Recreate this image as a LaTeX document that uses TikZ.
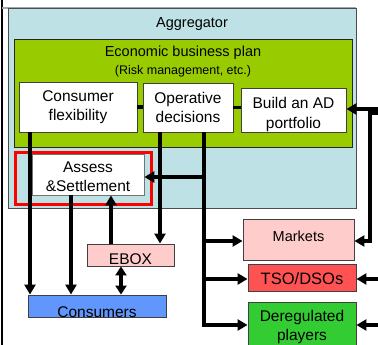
\documentclass[tikz,border=0pt]{standalone}
\usepackage{fontspec}
\setmainfont{Liberation Sans}
\usetikzlibrary{arrows.meta}
\definecolor{aggfill}{HTML}{BDE1E4}
\definecolor{planfill}{HTML}{99CC00}
\definecolor{pinkfill}{HTML}{FFCCCC}
\definecolor{tsofill}{HTML}{FF5252}
\definecolor{deregfill}{HTML}{33CC33}
\definecolor{consfill}{HTML}{6197FD}
\begin{document}
\begin{tikzpicture}[x=1pt,y=-1pt,
  box/.style={draw=black!75, line width=0.9pt, inner sep=0pt, align=center,
    font=\fontsize{15.5}{19.5}\selectfont},
  txt/.style={inner sep=0pt, align=center, font=\fontsize{15.5}{19.5}\selectfont},
  flow/.style={line width=3.4pt, -{Triangle[length=10pt,width=11pt]}},
  dflow/.style={line width=3.4pt, {Triangle[length=9pt,width=11pt]}-{Triangle[length=9pt,width=11pt]}},
  link/.style={line width=3.4pt},
]
\useasboundingbox (0,0) rectangle (378,345);
\clip (0,0) rectangle (378,345);

% frame edges
\draw[line width=2pt] (1.5,0) -- (1.5,345);
\draw[black!35, line width=1.2pt] (2,8) -- (356,8);

% aggregator and its plan
\node[box, fill=aggfill, draw=black!70, minimum width=348pt, minimum height=200pt] (agg) at (182,108) {};
\node[txt, font=\fontsize{14.5}{17}\selectfont] (aggl) at (192,24) {Aggregator};
\node[box, fill=planfill, draw=black!85, minimum width=338pt, minimum height=108pt] (plan) at (183,93) {};
\node[txt, font=\fontsize{14.5}{17}\selectfont] (econ) at (183,53) {Economic business plan};
\node[txt, font=\fontsize{12.5}{15}\selectfont] (risk) at (183,71) {(Risk management, etc.)};

\node[box, fill=white, minimum width=118pt, minimum height=50pt] (cf) at (78,107) {Consumer\\flexibility};
\node[box, fill=white, minimum width=90pt, minimum height=49pt] (od) at (188,107.5) {Operative\\decisions};
\node[box, fill=white, minimum width=105pt, minimum height=44pt] (ad) at (293.5,110) {};
\node[txt] (adl) at (293.5,114.5) {Build an AD\\portfolio};

% settlement
\node[draw=red, line width=3pt, minimum width=136pt, minimum height=52pt, inner sep=0pt] (redframe) at (83,178) {};
\node[box, fill=white, draw=black!55, line width=0.7pt, minimum width=112pt, minimum height=41pt] (assess) at (88,174.5) {};
\node[txt] (assessl) at (88,176.5) {Assess\\\&Settlement};

% outside actors
\node[box, fill=pinkfill, minimum width=87pt, minimum height=22pt] (ebox) at (130.5,255) {};
\node[txt] (eboxl) at (130.5,259.5) {EBOX};
\node[box, fill=consfill, minimum width=138pt, minimum height=22pt] (cons) at (97,306) {};
\node[txt] (consl) at (97,312) {Consumers};
\node[box, fill=pinkfill, minimum width=111pt, minimum height=41pt] (markets) at (298.5,239.5) {};
\node[txt, font=\fontsize{14.5}{17}\selectfont] (marketsl) at (298.5,236) {Markets};
\node[box, fill=tsofill, minimum width=108pt, minimum height=27pt] (tso) at (302,277.5) {};
\node[txt, font=\fontsize{16.5}{19}\selectfont] (tsol) at (302,279) {TSO/DSOs};
\node[box, fill=deregfill, minimum width=108pt, minimum height=50pt] (dereg) at (302,327) {Deregulated\\players};

% reference coordinates
\coordinate (x30) at (30,0);
\coordinate (x71) at (71,0);
\coordinate (x111) at (111,0);
\coordinate (x121) at (121,0);
\coordinate (x160) at (160,0);
\coordinate (x204) at (204,0);
\coordinate (b1) at (204,177);
\coordinate (b2) at (204,241);
\coordinate (b3) at (204,279);
\coordinate (b4) at (204,325);
\coordinate (r1) at (379,109);
\coordinate (r2) at (379,113);
\coordinate (rb) at (370,113);
\coordinate (rm) at (370,241);
\coordinate (r3) at (379,279);
\coordinate (r4) at (379,325);

% links inside the plan
\draw[link] (cf.east) -- (od.west |- cf.east);
\draw[link] (od.east) -- (ad.west |- od.east);

% flows
\draw[flow] (cf.south -| x30) -- (cons.north -| x30);
\draw[flow] (assess.south -| x71) -- (cons.north -| x71);
\draw[flow] (ebox.north -| x111) -- (assess.south -| x111);
\draw[dflow] (ebox.south -| x121) -- (cons.north -| x121);
\draw[flow] (od.south -| x160) -- (ebox.north -| x160);
\draw[flow] (od.south -| x204) -- (b4) -- (dereg.west |- b4);
\draw[flow] (b1) -- (assess.east |- b1);
\draw[flow] (b2) -- (markets.west |- b2);
\draw[flow] (b3) -- (tso.west |- b3);

\draw[flow] (r1) -- (ad.east |- r1);
\draw[flow] (r2) -- (rb) -- (rm) -- (markets.east |- rm);
\draw[flow] (r3) -- (tso.east |- r3);
\draw[flow] (r4) -- (dereg.east |- r4);
\end{tikzpicture}
\end{document}
